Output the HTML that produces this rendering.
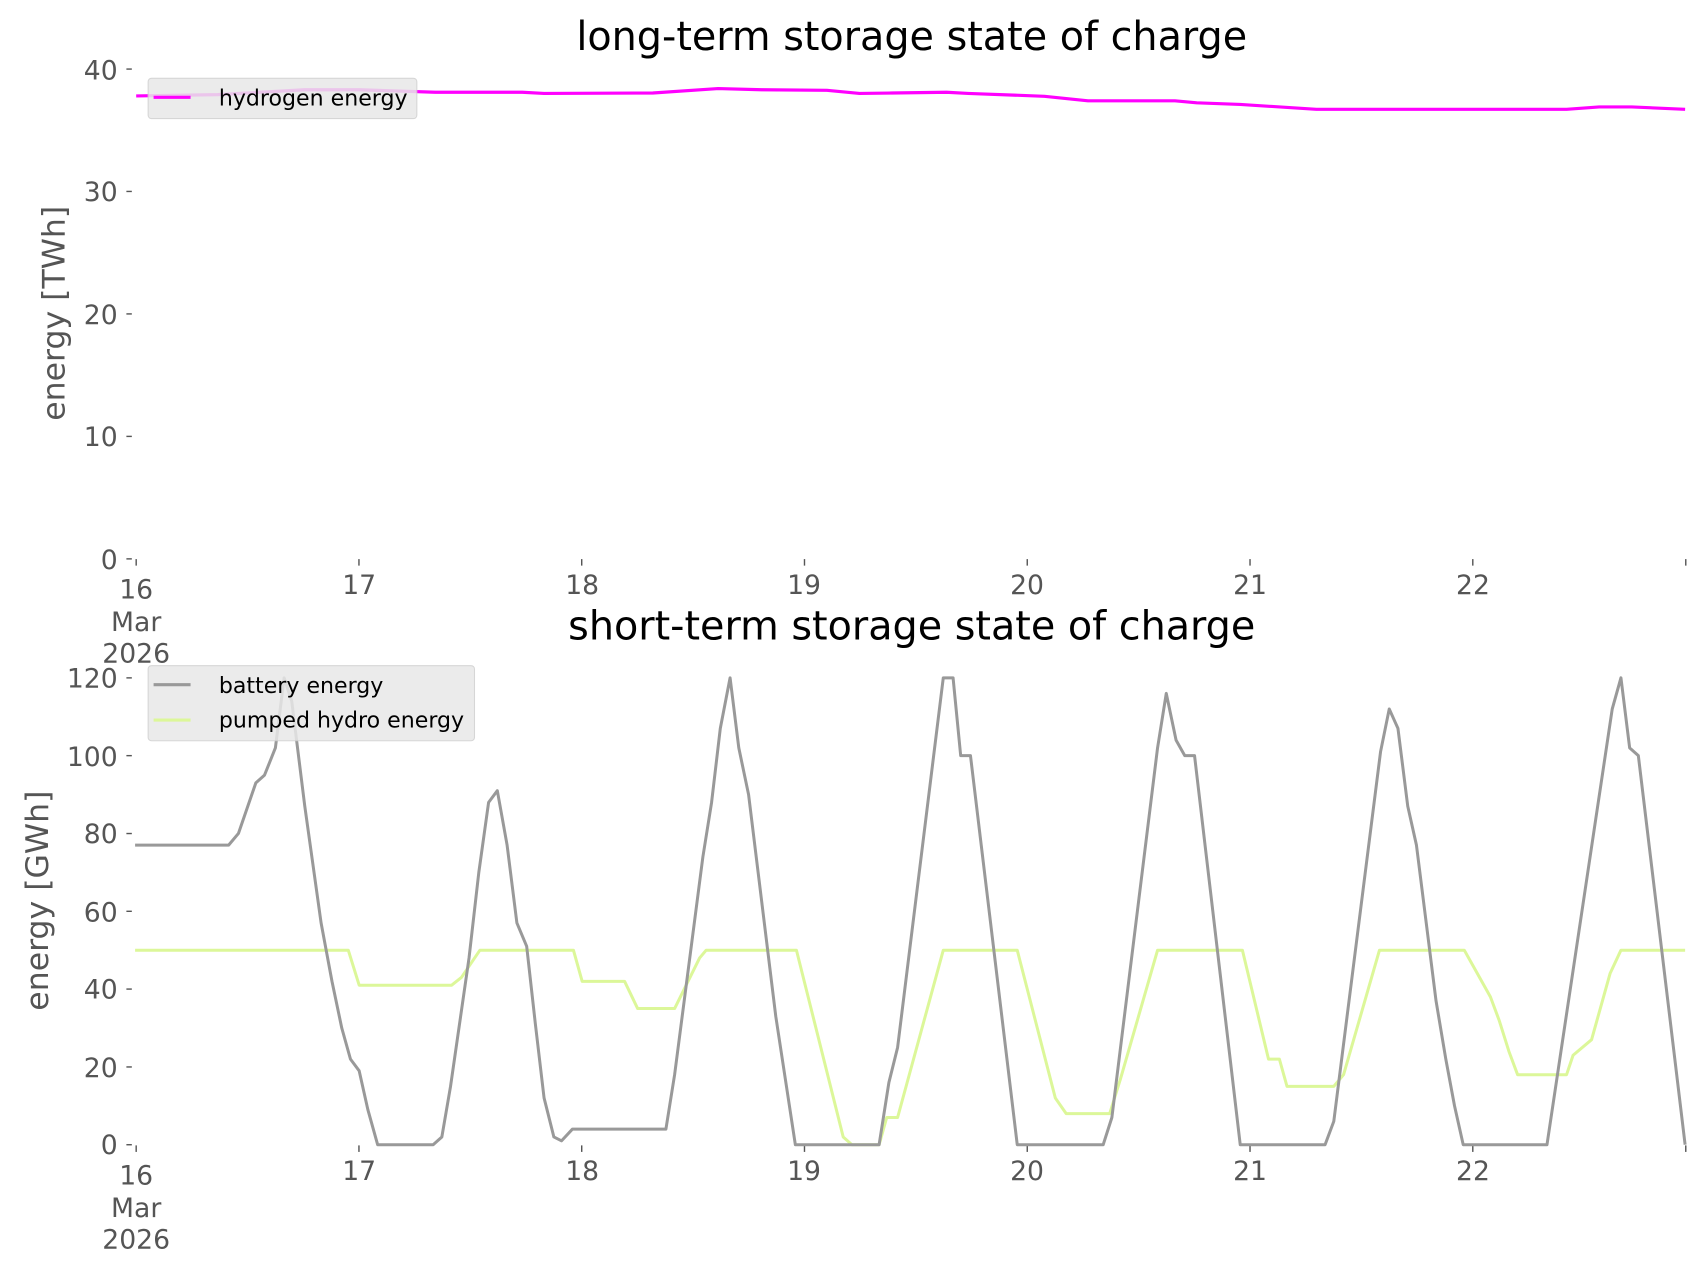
<!DOCTYPE html>
<html><head><meta charset="utf-8"><style>
html,body{margin:0;padding:0;background:#fff;}
svg{display:block;font-family:"DejaVu Sans","Liberation Sans",sans-serif;}
</style></head><body>
<svg width="1706" height="1277" viewBox="0 0 1568 1174" xmlns="http://www.w3.org/2000/svg">
<rect width="1568" height="1174" fill="#fff"/>
<!-- TOP -->
<text x="838" y="46" font-size="36.5" text-anchor="middle" fill="#000">long-term storage state of charge</text>
<g font-size="24.5" fill="#555" text-anchor="end">
<text x="108" y="73">40</text><text x="108" y="185">30</text><text x="108" y="298">20</text><text x="108" y="410">10</text><text x="108" y="523">0</text>
</g>
<g stroke="#555" stroke-width="1.3">
<line x1="116" x2="121" y1="63.5" y2="63.5"/><line x1="116" x2="121" y1="176" y2="176"/><line x1="116" x2="121" y1="288.6" y2="288.6"/><line x1="116" x2="121" y1="401.2" y2="401.2"/><line x1="116" x2="121" y1="513.8" y2="513.8"/>
<line x1="125" x2="125" y1="514" y2="520"/><line x1="329.8" x2="329.8" y1="514" y2="520"/><line x1="534.6" x2="534.6" y1="514" y2="520"/><line x1="739.4" x2="739.4" y1="514" y2="520"/><line x1="944.2" x2="944.2" y1="514" y2="520"/><line x1="1149" x2="1149" y1="514" y2="520"/><line x1="1353.8" x2="1353.8" y1="514" y2="520"/><line x1="1549.6" x2="1549.6" y1="514" y2="520"/>
</g>
<g font-size="24.5" fill="#555" text-anchor="middle">
<text x="125" y="550">16</text><text x="125" y="580">Mar</text><text x="125" y="609">2026</text>
<text x="330" y="546">17</text><text x="535" y="546">18</text><text x="739" y="546">19</text><text x="944" y="546">20</text><text x="1149" y="546">21</text><text x="1354" y="546">22</text>
</g>
<text transform="translate(59,288) rotate(-90)" font-size="29" fill="#555" text-anchor="middle">energy [TWh]</text>
<polyline fill="none" stroke="#ff00ff" stroke-width="2.9" stroke-linejoin="round" points="125,88.2 200,87 280,82.5 330,82.5 400,84.8 480,84.8 500,85.9 600,85.5 660,81.4 700,82.5 760,83 790,85.9 820,85.5 870,84.8 890,85.9 960,88.5 1000,92.7 1080,92.7 1100,94.5 1140,96 1210,100.5 1440,100.5 1470,98.3 1500,98.3 1549,100.5"/>
<rect x="136" y="72" width="247" height="37" rx="3" fill="#e8e8e8" stroke="#d0d0d0" stroke-width="1" opacity="0.85"/>
<line x1="141" x2="175" y1="89.5" y2="89.5" stroke="#ff00ff" stroke-width="2.9"/>
<text x="201" y="97" font-size="20.3" fill="#000">hydrogen energy</text>

<!-- BOTTOM -->
<text x="838" y="588" font-size="36.5" text-anchor="middle" fill="#000">short-term storage state of charge</text>
<g font-size="24.5" fill="#555" text-anchor="end">
<text x="108" y="632">120</text><text x="108" y="704">100</text><text x="108" y="775">80</text><text x="108" y="847">60</text><text x="108" y="918">40</text><text x="108" y="990">20</text><text x="108" y="1061">0</text>
</g>
<g stroke="#555" stroke-width="1.3">
<line x1="116" x2="121" y1="623.2" y2="623.2"/><line x1="116" x2="121" y1="694.7" y2="694.7"/><line x1="116" x2="121" y1="766.3" y2="766.3"/><line x1="116" x2="121" y1="837.8" y2="837.8"/><line x1="116" x2="121" y1="909.3" y2="909.3"/><line x1="116" x2="121" y1="980.9" y2="980.9"/><line x1="116" x2="121" y1="1052.4" y2="1052.4"/>
<line x1="125" x2="125" y1="1053" y2="1059"/><line x1="329.8" x2="329.8" y1="1053" y2="1059"/><line x1="534.6" x2="534.6" y1="1053" y2="1059"/><line x1="739.4" x2="739.4" y1="1053" y2="1059"/><line x1="944.2" x2="944.2" y1="1053" y2="1059"/><line x1="1149" x2="1149" y1="1053" y2="1059"/><line x1="1353.8" x2="1353.8" y1="1053" y2="1059"/><line x1="1549.6" x2="1549.6" y1="1053" y2="1059"/>
</g>
<g font-size="24.5" fill="#555" text-anchor="middle">
<text x="125" y="1089">16</text><text x="125" y="1119">Mar</text><text x="125" y="1148">2026</text>
<text x="330" y="1085">17</text><text x="535" y="1085">18</text><text x="739" y="1085">19</text><text x="944" y="1085">20</text><text x="1149" y="1085">21</text><text x="1354" y="1085">22</text>
</g>
<text transform="translate(44,828) rotate(-90)" font-size="29" fill="#555" text-anchor="middle">energy [GWh]</text>
<g transform="translate(0,1052.4) scale(1,-3.577)">
<polyline fill="none" stroke="#dcf799" stroke-width="3" vector-effect="non-scaling-stroke" stroke-linejoin="round" points="124,50 320,50 330,41 415,41 424,43 441,50 527,50 535,42 574,42 586,35 620,35 643,48 649,50 732,50 775,2 783,0 808,0 815,7 825,7 867,50 935,50 970,12 980,8 1020,8 1030,17 1064,50 1142,50 1166,22 1176,22 1183,15 1226,15 1235,18 1268,50 1346,50 1356,45 1370,38 1378,32 1387,24 1395,18 1440,18 1446,23 1463,27 1480,44 1490,50 1549,50"/>
<polyline fill="none" stroke="#999999" stroke-width="3" vector-effect="non-scaling-stroke" stroke-linejoin="round" points="124,77 210,77 219,80 235,93 243,95 253,102 261,120 268,114 280,87 295,57 305,42 314,30 322,22 330,19 338,9 347,0 398,0 406,2 414,15 431,48 440,70 449,88 457,91 466,77 475,57 484,51 492,31 500,12 509,2 516,1 526,4 612,4 620,18 646,74 654,88 662,107 671,120 679,102 688,90 713,33 731,0 808,0 817,16 825,25 867,120 876,120 883,100 892,100 935,0 1014,0 1022,7 1064,102 1072,116 1081,104 1089,100 1098,100 1140,0 1218,0 1226,6 1269,101 1277,112 1285,107 1294,87 1302,77 1320,37 1329,22 1337,10 1345,0 1422,0 1482,112 1490,120 1498,102 1506,100 1549,0"/>
</g>
<rect x="136" y="612" width="300" height="69" rx="3" fill="#e8e8e8" stroke="#d0d0d0" stroke-width="1" opacity="0.85"/>
<line x1="141" x2="175" y1="629.5" y2="629.5" stroke="#999999" stroke-width="2.9"/>
<text x="201" y="637" font-size="20.3" fill="#000">battery energy</text>
<line x1="141" x2="175" y1="662" y2="662" stroke="#dcf799" stroke-width="2.9"/>
<text x="201" y="669" font-size="20.3" fill="#000">pumped hydro energy</text>
</svg>
</body></html>
